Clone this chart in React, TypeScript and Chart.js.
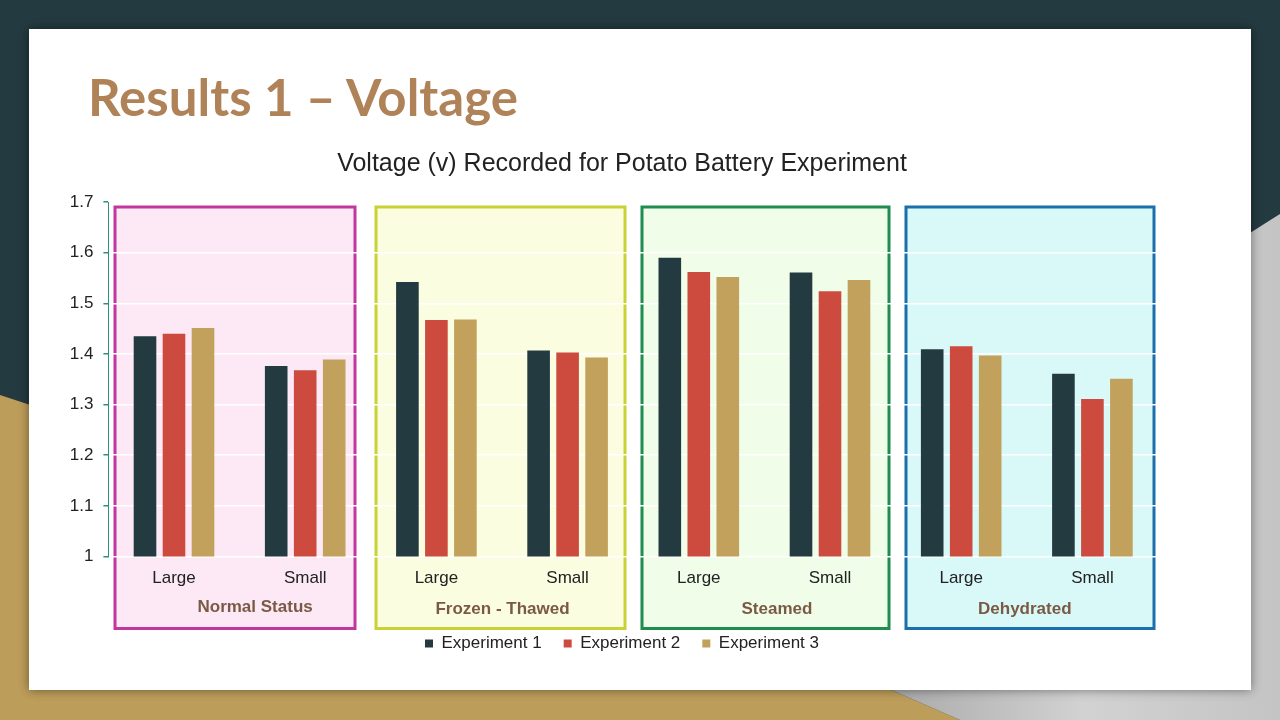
import React, { useEffect, useRef } from "react";
import { Chart, registerables } from "chart.js";

Chart.register(...registerables);

const categories = ["Large", "Small", "Large", "Small", "Large", "Small", "Large", "Small"];
const groupNames = ["Normal Status", "Frozen - Thawed", "Steamed", "Dehydrated"];
const seriesNames = ["Experiment 1", "Experiment 2", "Experiment 3"];
const experiment1 = [1.435, 1.376, 1.542, 1.407, 1.59, 1.561, 1.409, 1.361];
const experiment2 = [1.44, 1.368, 1.467, 1.403, 1.562, 1.524, 1.415, 1.311];
const experiment3 = [1.451, 1.389, 1.468, 1.393, 1.552, 1.546, 1.397, 1.351];
const yMin = 1;
const yMax = 1.7;
const yStep = 0.1;

const seriesColors = ["#243a41", "#cd4a3f", "#c1a15b"];
const groupBorders = ["#c2379c", "#c9d234", "#1f8c50", "#1b6fab"];
const groupFills = ["#fce9f5", "#fbfde1", "#effde9", "#d9f9f9"];
const boxInsetLeft = [6.6, 5.2, 8.8, 10.4];
const boxInsetRight = [15.8, 8.2, 6.6, 4];
const labelShift = [15.5, 0.5, 12.5, -2];
const labelDrop = [51, 53, 53, 53];

const FONT = "'Liberation Sans', Arial, sans-serif";

const groupBoxPlugin = {
  id: "groupBoxes",
  beforeDraw(chart: any) {
    const { ctx, chartArea } = chart;
    const x = chart.scales.x;
    const catW = x.width / categories.length;
    ctx.save();
    groupNames.forEach((_, g) => {
      const left = x.getPixelForValue(2 * g) - catW / 2 + boxInsetLeft[g];
      const right = x.getPixelForValue(2 * g + 1) + catW / 2 - boxInsetRight[g];
      const top = chartArea.top + 5;
      const bottom = chartArea.bottom + 72;
      ctx.fillStyle = groupFills[g];
      ctx.fillRect(left, top, right - left, bottom - top);
      ctx.strokeStyle = groupBorders[g];
      ctx.lineWidth = 3;
      ctx.strokeRect(left, top, right - left, bottom - top);
    });
    ctx.restore();
  },
  afterDraw(chart: any) {
    const { ctx, chartArea } = chart;
    const x = chart.scales.x;
    ctx.save();
    ctx.font = `bold 17px ${FONT}`;
    ctx.fillStyle = "#7a5a44";
    ctx.textAlign = "center";
    ctx.textBaseline = "middle";
    groupNames.forEach((name, g) => {
      const cx = (x.getPixelForValue(2 * g) + x.getPixelForValue(2 * g + 1)) / 2 + labelShift[g];
      ctx.fillText(name, cx, chartArea.bottom + labelDrop[g]);
    });
    ctx.restore();
  },
};

function VoltageChart() {
  const ref = useRef<HTMLCanvasElement | null>(null);
  useEffect(() => {
    if (!ref.current) return;
    const chart = new Chart(ref.current, {
      type: "bar",
      data: {
        labels: categories,
        datasets: [experiment1, experiment2, experiment3].map((d, i) => ({
          label: seriesNames[i],
          data: d,
          backgroundColor: seriesColors[i],
          borderWidth: 0,
          categoryPercentage: 0.663,
          barPercentage: 0.78,
          yAxisID: "y",
        })),
      },
      options: {
        animation: false,
        responsive: false,
        devicePixelRatio: 1,
        layout: { padding: { left: 0, right: 0, top: 0, bottom: 58 } },
        plugins: {
          title: {
            display: true,
            text: "Voltage (v) Recorded for Potato Battery Experiment",
            color: "#222222",
            font: { family: FONT, size: 25, weight: "normal" },
            padding: { top: 149, bottom: 23 },
          },
          legend: {
            position: "bottom",
            labels: {
              color: "#222222",
              font: { family: FONT, size: 17 },
              boxWidth: 8,
              boxHeight: 8,
              padding: 22,
            },
          },
          tooltip: { enabled: false },
        },
        scales: {
          x: {
            grid: { display: false, drawTicks: false },
            border: { display: false },
            ticks: { color: "#222222", font: { family: FONT, size: 17 }, padding: 12 },
            afterFit(scale: any) {
              scale.height = 56.5;
            },
          },
          y: {
            min: yMin,
            max: yMax,
            position: "left",
            ticks: {
              stepSize: yStep,
              color: "#222222",
              font: { family: FONT, size: 17 },
              padding: 10,
              callback: (v: any) => (Math.abs(v - 1) < 1e-9 ? "1" : Number(v).toFixed(1)),
            },
            grid: { color: "#ffffff", lineWidth: 1.5, tickColor: "#2f8f7f", tickLength: 5 },
            border: { display: true, color: "#2f8f7f", width: 1 },
            afterFit(scale: any) {
              scale.width = 108.4;
            },
          },
          y2: {
            position: "right",
            min: 0,
            max: 1,
            ticks: { display: false },
            grid: { display: false, drawTicks: false },
            border: { display: false },
            afterFit(scale: any) {
              scale.width = 86;
            },
          },
        },
      },
      plugins: [groupBoxPlugin],
    } as any);
    return () => chart.destroy();
  }, []);
  return (
    <canvas
      ref={ref}
      width={1244}
      height={720}
      style={{ position: "absolute", left: 0, top: 0, width: 1244, height: 720 }}
    />
  );
}

export default function App() {
  return (
    <div
      style={{
        position: "fixed",
        left: 0,
        top: 0,
        width: 1280,
        height: 720,
        overflow: "hidden",
        background: "#243a41",
      }}
    >
      <svg width={1280} height={720} style={{ position: "absolute", left: 0, top: 0 }}>
        <defs>
          <linearGradient id="grayg" x1="0" y1="0" x2="1" y2="0">
            <stop offset="0" stopColor="#a9a9a9" />
            <stop offset="0.5" stopColor="#d2d2d2" />
            <stop offset="1" stopColor="#c4c4c4" />
          </linearGradient>
        </defs>
        <polygon points="0,395 887,688 960,720 0,720" fill="#bd9d5a" />
        <polygon points="1280,214 1250,233 887,688 960,720 1280,720" fill="url(#grayg)" />
      </svg>
      <div
        style={{
          position: "absolute",
          left: 29,
          top: 29,
          width: 1222,
          height: 661,
          background: "#ffffff",
          boxShadow: "0 0 10px rgba(0,0,0,0.45)",
        }}
      />
      <div
        style={{
          position: "absolute",
          left: 88,
          top: 71,
          fontFamily: "Lato, 'Open Sans', sans-serif",
          fontWeight: 700,
          fontSize: 51,
          lineHeight: "1",
          color: "#b08258",
          whiteSpace: "nowrap",
        }}
      >
        Results 1 – Voltage
      </div>
      <VoltageChart />
    </div>
  );
}
